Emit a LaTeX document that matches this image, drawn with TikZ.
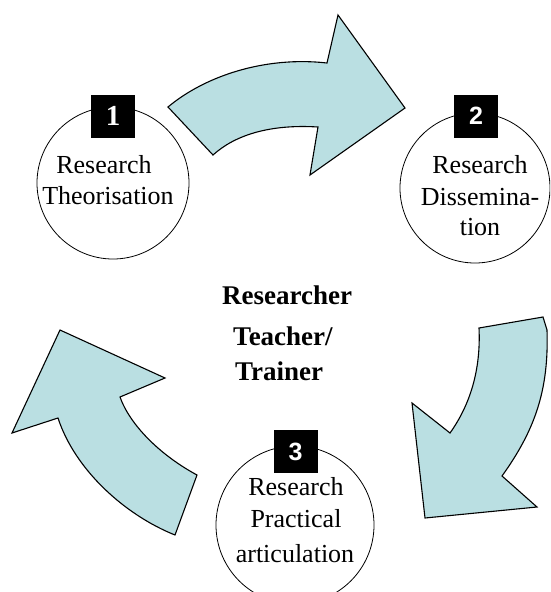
\documentclass[tikz,border=0pt]{standalone}
\usepackage{fontspec}
\setmainfont{Liberation Serif}
\newfontfamily\numsans{Liberation Sans}
\definecolor{arrowfill}{RGB}{186,223,226}
\begin{document}
\begin{tikzpicture}[x=1pt,y=-1pt,
  bigarrow/.style={fill=arrowfill,draw=black,line width=1.1pt,line join=miter},
  stage/.style={circle,draw=black,line width=0.8pt,minimum size=#1,inner sep=0pt},
  numbox/.style={fill=black,minimum width=44pt,minimum height=43pt,inner sep=0pt,text=white},
  numfont/.style={font=\numsans\bfseries\fontsize{25}{25}\selectfont},
  lbl/.style={anchor=base,inner sep=0pt,font=\fontsize{26}{30}\selectfont},
  ctr/.style={anchor=base west,inner sep=0pt,font=\bfseries\fontsize{27}{30}\selectfont}]
\useasboundingbox (0,0) rectangle (550,592);
\clip (0,0) rectangle (550,592);
% curved block arrows
\draw[bigarrow] (168,107) .. controls (205,76) and (265,56) .. (327,63) -- (338,15) -- (405,108) -- (310,175) -- (318,127) .. controls (270,124) and (235,135) .. (213,155) -- cycle;
\draw[bigarrow] (479,328) -- (543,317) -- (547,330) .. controls (549,390) and (535,430) .. (502,476) -- (537,507) -- (425,518) -- (412,403) -- (450,433) .. controls (470,405) and (481,370) .. (479,328) -- cycle;
\draw[bigarrow] (60,330) -- (165,378) -- (120,397) .. controls (130,425) and (160,455) .. (197,475) -- (175,535) .. controls (125,515) and (75,470) .. (58,418) -- (12,433) -- cycle;
% stage circles
\node[stage=152pt] (c1) at (113,183) {};
\node[stage=150pt] (c2) at (475,188) {};
\node[stage=158pt] (c3) at (295,525) {};
% number boxes
\node[numbox,font=\bfseries\fontsize{29}{29}\selectfont] (n1) at (113,116) {1};
\node[numbox,numfont] (n2) at (476,116) {2};
\node[numbox,numfont] (n3) at (295.5,451.5) {3};
% labels
\node[lbl] (l1a) at (104,173) {Research};
\node[lbl] (l1b) at (108,204) {Theorisation};
\node[lbl] (l2a) at (480,173) {Research};
\node[lbl] (l2b) at (480,205) {Dissemina-};
\node[lbl] (l2c) at (480,235) {tion};
\node[lbl] (l3a) at (296,495) {Research};
\node[lbl] (l3b) at (296,527) {Practical};
\node[lbl] (l3c) at (295,562) {articulation};
% centre text
\node[ctr] (m1) at (222,304) {Researcher};
\node[ctr] (m2) at (233,345) {Teacher/};
\node[ctr] (m3) at (235,380) {Trainer};
\end{tikzpicture}
\end{document}
